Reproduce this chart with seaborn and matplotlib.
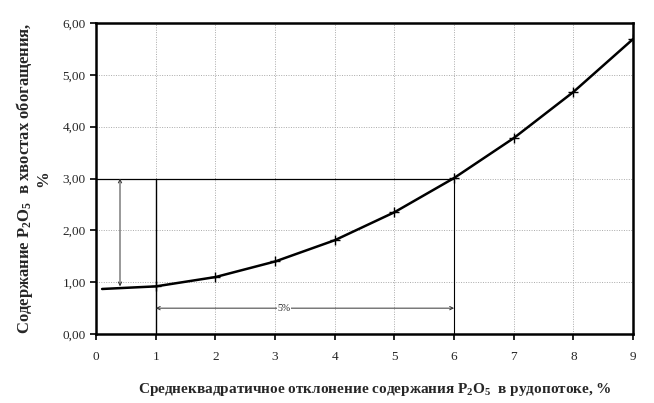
import numpy as np
import matplotlib
matplotlib.use("Agg")
import matplotlib.pyplot as plt
import seaborn as sns
import pandas as pd

sigma = [1, 2, 3, 4, 5, 6, 7, 8, 9]
tails = [0.92, 1.10, 1.40, 1.81, 2.35, 3.01, 3.78, 4.67, 5.69]
curve_start_x = [0.1]
curve_start_y = [0.87]
x_ticks = [0, 1, 2, 3, 4, 5, 6, 7, 8, 9]
y_ticks = [0, 1, 2, 3, 4, 5, 6]
limit_y = 3.0
range_x = [1, 6]

df = pd.DataFrame({"sigma": sigma, "tails": tails})
line_df = pd.DataFrame({"sigma": curve_start_x + sigma, "tails": curve_start_y + tails})

sns.set_theme(style="white")
plt.rcParams["font.family"] = ["Liberation Serif", "DejaVu Serif"]
plt.rcParams["mathtext.fontset"] = "custom"
plt.rcParams["mathtext.rm"] = "Liberation Serif"
plt.rcParams["mathtext.bf"] = "Liberation Serif:bold"

fig = plt.figure(figsize=(6.54, 4.03), dpi=100)
ax = fig.add_axes([0.147, 0.171, 0.821, 0.772])

for xv in x_ticks[1:]:
    ax.axvline(xv, color="#aaaaaa", lw=0.7, ls=(0, (1, 1.5)), zorder=0)
for yv in y_ticks[1:]:
    ax.axhline(yv, color="#aaaaaa", lw=0.7, ls=(0, (1, 1.5)), zorder=0)

sns.lineplot(data=line_df, x="sigma", y="tails", ax=ax, color="black", lw=1.8,
             sort=True, zorder=3)
sns.scatterplot(data=df, x="sigma", y="tails", ax=ax, marker="+", s=60,
                color="black", linewidth=1.0, zorder=4)

# reference lines
ax.plot([0, range_x[1]], [limit_y, limit_y], color="black", lw=0.9, zorder=2)
ax.plot([range_x[0], range_x[0]], [0, limit_y], color="black", lw=1.0, zorder=2)
ax.plot([range_x[1], range_x[1]], [0, limit_y], color="black", lw=0.8, zorder=2)

ax.annotate("", xy=(0.4, tails[0]), xytext=(0.4, limit_y),
            arrowprops=dict(arrowstyle="<->", color="#333333", lw=0.7,
                            shrinkA=0, shrinkB=0, mutation_scale=6))
ax.annotate("", xy=(range_x[0], 0.5), xytext=(range_x[1], 0.5),
            arrowprops=dict(arrowstyle="<->", color="#333333", lw=0.7,
                            shrinkA=0, shrinkB=0, mutation_scale=6))
ax.text(3.15, 0.5, "5%", ha="center", va="center", fontsize=7,
        bbox=dict(facecolor="white", edgecolor="none", pad=0.5))

ax.set_xlim(0, 9)
ax.set_ylim(0, 6)
ax.set_xticks(x_ticks)
ax.set_yticks(y_ticks)
ax.set_xticklabels([str(v) for v in x_ticks], fontsize=9.5)
ax.set_yticklabels([f"{v:.2f}".replace(".", ",") for v in y_ticks], fontsize=9.5)
ax.tick_params(axis="both", direction="out", length=4, width=1.2, color="black",
               bottom=True, left=True)
ax.tick_params(axis="x", pad=8)
for s in ax.spines.values():
    s.set_color("black")
    s.set_linewidth(1.8)

p2o5 = r"$\mathbf{P_2O_5}$"
ax.set_xlabel(f"Среднеквадратичное отклонение содержания {p2o5}  в рудопотоке, %",
              fontsize=11, fontweight="bold", labelpad=10)
ax.xaxis.set_label_coords(0.52, -0.15)
ax.set_ylabel(f"Содержание {p2o5}  в хвостах обогащения,\n%",
              fontsize=12, fontweight="bold", labelpad=8, linespacing=1.0)

fig.savefig("out.png", dpi=100)
